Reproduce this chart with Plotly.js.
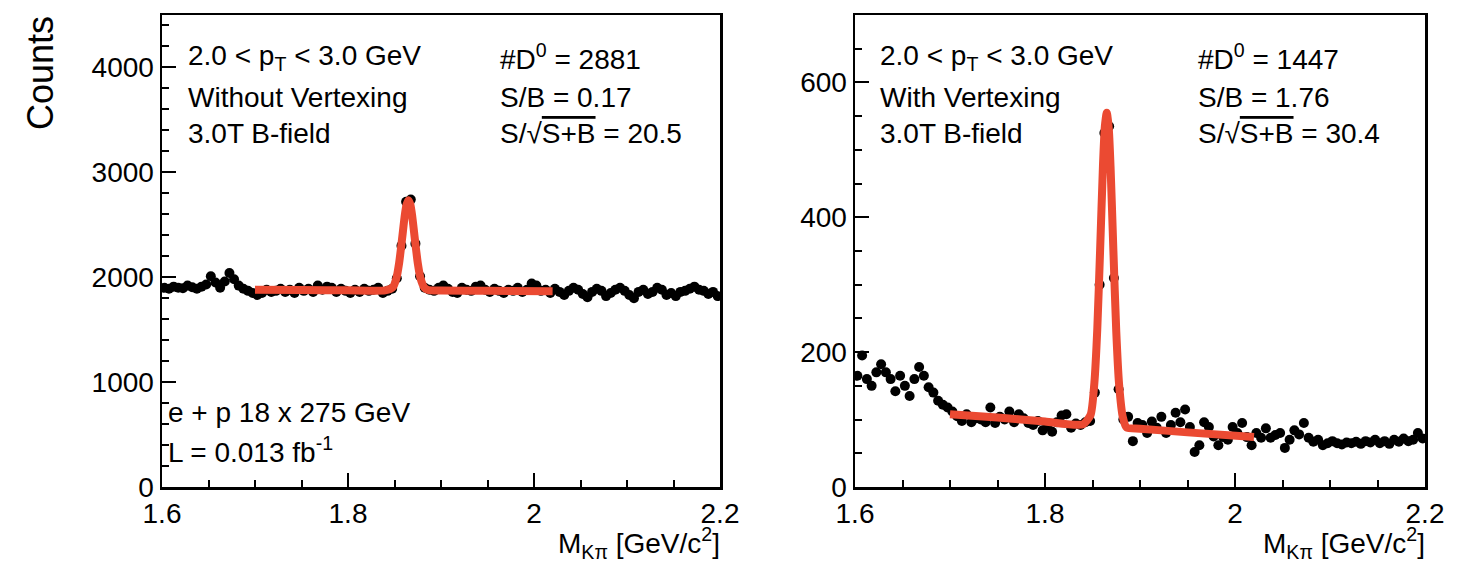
<!DOCTYPE html>
<html>
<head>
<meta charset="utf-8">
<script src="https://cdn.plot.ly/plotly-3.0.1.min.js"></script>
<style>html,body{margin:0;padding:0;background:#fff;}#chart{width:1468px;height:564px;}</style>
</head>
<body>
<div id="chart"></div>
<script>
// ---- Data ----
const binLow = 1.6;
const binWidth = 0.005;
const nBins = 120;

// Left panel: without vertexing, counts per bin
const countsNoVtx = [
  1900,1890,1910,1900,1895,1920,1905,1890,1910,1930,
  2010,1950,1900,1960,2040,1980,1920,1890,1870,1850,
  1830,1850,1880,1860,1870,1890,1860,1880,1850,1900,
  1870,1890,1860,1920,1880,1910,1900,1860,1890,1870,
  1850,1880,1860,1890,1870,1880,1900,1850,1870,
  1890,1990,2300,2720,2740,2320,2010,1900,
  1880,1870,1900,1920,1890,1860,1850,1900,1880,1870,
  1910,1920,1880,1860,1890,1870,1850,1880,1870,1900,
  1860,1880,1940,1920,1870,1880,1850,1890,1860,1830,
  1870,1900,1880,1840,1810,1860,1890,1870,1820,1850,
  1880,1900,1870,1830,1800,1860,1880,1840,1860,1900,
  1880,1830,1850,1820,1860,1870,1890,1910,1880,1870,
  1840,1860,1820
];

// Right panel: with vertexing, counts per bin
const countsVtx = [
  165,195,160,150,170,182,170,160,142,165,
  150,135,160,178,165,148,140,128,122,118,
  112,105,98,108,96,102,100,96,118,95,
  104,100,112,96,108,102,95,92,98,84,
  90,82,96,106,108,88,94,92,96,
  98,140,300,525,535,310,145,100,
  104,68,95,92,80,97,88,104,80,92,
  110,96,115,89,52,62,96,89,75,62,
  74,70,89,80,95,74,62,80,73,87,
  73,77,80,58,70,84,78,95,73,67,
  70,62,65,68,65,63,66,65,67,64,
  68,66,70,65,68,64,70,67,72,68,
  70,80,72
];

// Fit curves
const fitMassNoVtx = [1.70,1.75,1.80,1.84,1.848,1.852,1.855,1.858,1.861,1.863,1.865,1.867,1.869,1.872,1.875,1.878,1.882,1.886,1.90,1.95,2.02];
const fitNoVtx     = [1880,1878,1876,1875,1903,1990,2137,2355,2586,2694,2734,2694,2586,2355,2137,1990,1903,1878,1873,1870,1866];
const fitMassVtx = [1.70,1.75,1.80,1.84,1.848,1.852,1.855,1.858,1.861,1.863,1.865,1.867,1.869,1.872,1.875,1.878,1.882,1.886,1.90,1.95,2.02];
const fitVtx     = [108,103,97,93,107,155,233,351,476,535,555,534,475,350,231,152,103,88,86.5,81,74];

// Tick labels
const xTickVals = [1.6, 1.8, 2.0, 2.2];
const xTickText = ['1.6', '1.8', '2', '2.2'];
const yTickValsL = [0, 1000, 2000, 3000, 4000];
const yTickValsR = [0, 200, 400, 600];

// Text
const ptText = '2.0 < p<sub>T</sub> < 3.0 GeV';
const labelsL = ['Without Vertexing', '3.0T B-field'];
const labelsR = ['With Vertexing', '3.0T B-field'];
const statsL = ['#D<sup>0</sup> = 2881', 'S/B = 0.17', 'S/√<span style="text-decoration:overline">S+B</span> = 20.5'];
const statsR = ['#D<sup>0</sup> = 1447', 'S/B = 1.76', 'S/√<span style="text-decoration:overline">S+B</span> = 30.4'];
const beamText = ['e + p 18 x 275 GeV', 'L = 0.013 fb<sup>-1</sup>'];
const xTitle = 'M<sub>Kπ</sub> [GeV/c<sup>2</sup>]';
const yTitle = 'Counts';

// ---- Build ----
const mass = [];
for (let i = 0; i < nBins; i++) mass.push(+(binLow + binWidth * (i + 0.5)).toFixed(4));

const W = 1468, H = 564;
const px = x => x / W;
const py = y => 1 - y / H;

const FONT = 'Liberation Sans, Arial, Helvetica, sans-serif';
const RED = '#EB4A32';

const marker = {symbol: 'circle', size: 10, color: '#000'};
const traces = [
  {x: mass, y: countsNoVtx, type: 'scatter', mode: 'markers', marker: marker, xaxis: 'x', yaxis: 'y'},
  {x: fitMassNoVtx, y: fitNoVtx, type: 'scatter', mode: 'lines', line: {color: RED, width: 8, shape: 'spline', smoothing: 0.6}, xaxis: 'x', yaxis: 'y'},
  {x: mass, y: countsVtx, type: 'scatter', mode: 'markers', marker: marker, xaxis: 'x2', yaxis: 'y2'},
  {x: fitMassVtx, y: fitVtx, type: 'scatter', mode: 'lines', line: {color: RED, width: 8, shape: 'spline', smoothing: 0.6}, xaxis: 'x2', yaxis: 'y2'}
];

function xAxis(domain, anchor) {
  return {
    domain: domain, anchor: anchor, range: [1.6, 2.2],
    tickvals: xTickVals, ticktext: xTickText,
    ticks: 'inside', ticklen: 14, tickwidth: 2, tickcolor: '#000',
    minor: {dtick: 0.05, tick0: 1.6, ticks: 'inside', ticklen: 7, tickwidth: 2, tickcolor: '#000', showgrid: false},
    showline: true, linecolor: '#000', linewidth: 2.5, mirror: true,
    showgrid: false, zeroline: false,
    tickfont: {family: FONT, size: 28, color: '#000'}
  };
}
function yAxis(domain, anchor, range, vals, minorStep) {
  return {
    domain: domain, anchor: anchor, range: range,
    tickvals: vals,
    ticks: 'inside', ticklen: 14, tickwidth: 2, tickcolor: '#000',
    minor: {dtick: minorStep, tick0: 0, ticks: 'inside', ticklen: 7, tickwidth: 2, tickcolor: '#000', showgrid: false},
    showline: true, linecolor: '#000', linewidth: 2.5, mirror: true,
    showgrid: false, zeroline: false,
    tickfont: {family: FONT, size: 28, color: '#000'}
  };
}

const yDom = [py(487), py(15)];
const layout = {
  width: W, height: H,
  margin: {l: 0, r: 0, t: 0, b: 0},
  paper_bgcolor: '#fff', plot_bgcolor: '#fff',
  showlegend: false,
  font: {family: FONT, color: '#000'},
  xaxis: xAxis([px(162), px(720)], 'y'),
  yaxis: yAxis(yDom, 'x', [0, 4500], yTickValsL, 200),
  xaxis2: xAxis([px(855), px(1425)], 'y2'),
  yaxis2: yAxis(yDom, 'x2', [0, 700], yTickValsR, 50),
  annotations: []
};

function ann(text, x, y, opts) {
  layout.annotations.push(Object.assign({
    text: text, xref: 'paper', yref: 'paper', x: px(x), y: py(y),
    xanchor: 'left', yanchor: 'middle', showarrow: false,
    font: {family: FONT, size: 28, color: '#000'}
  }, opts || {}));
}

const rows = [57, 97, 133];
// Left panel text
ann(ptText, 186, rows[0]);
ann(labelsL[0], 186, rows[1]);
ann(labelsL[1], 186, rows[2]);
statsL.forEach((t, i) => ann(t, 498, rows[i]));
ann(beamText[0], 166, 412);
ann(beamText[1], 166, 450);
// Right panel text
ann(ptText, 878, rows[0]);
ann(labelsR[0], 878, rows[1]);
ann(labelsR[1], 878, rows[2]);
statsR.forEach((t, i) => ann(t, 1196, rows[i]));
// Axis titles
ann(xTitle, 722, 543, {xanchor: 'right', font: {family: FONT, size: 28, color: '#000'}});
ann(xTitle, 1427, 543, {xanchor: 'right', font: {family: FONT, size: 28, color: '#000'}});
ann(yTitle, 41, 14, {xanchor: 'center', yanchor: 'top', textangle: -90, font: {family: FONT, size: 36, color: '#000'}});

Plotly.newPlot('chart', traces, layout, {displayModeBar: false, staticPlot: true});
</script>
</body>
</html>
